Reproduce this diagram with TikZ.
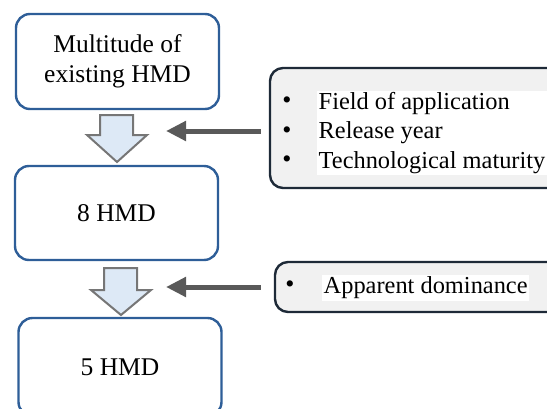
\documentclass[tikz,border=0pt]{standalone}
\usepackage{fontspec}
\setmainfont{Liberation Serif}
\usetikzlibrary{arrows.meta}
\definecolor{boxblue}{RGB}{46,94,152}
\definecolor{arrowfill}{RGB}{221,233,246}
\definecolor{arrowedge}{RGB}{118,118,118}
\definecolor{pointer}{RGB}{89,89,89}
\definecolor{notefill}{RGB}{241,241,241}
\definecolor{noteedge}{RGB}{30,42,56}
\tikzset{
  stepbox/.style={draw=boxblue, line width=2.4pt, rounded corners=14pt, fill=white,
    minimum width=203pt, align=center, font=\fontsize{25.5}{30}\selectfont},
  notebox/.style={draw=noteedge, line width=2.4pt, rounded corners=13pt, fill=notefill},
  flowarrow/.style={draw=arrowedge, line width=2pt, fill=arrowfill, line join=miter},
  pointerline/.style={draw=pointer, line width=5pt, -{Triangle[length=20pt,width=19pt]}},
  itemtext/.style={fill=white, inner sep=1.5pt, align=left, anchor=west,
    font=\fontsize{24.4}{29.5}\selectfont},
  bulletmark/.style={inner sep=0pt, font=\fontsize{26}{26}\selectfont}
}
\begin{document}
\begin{tikzpicture}[x=1pt,y=-1pt]
\useasboundingbox (0,0) rectangle (547,408);
\clip (0,0) rectangle (547,408);

% process steps
\node[stepbox, minimum height=95pt] (b1) at (117.5,61.5) {Multitude of\\existing HMD};
\node[stepbox, minimum height=94pt] (b2) at (116.5,213) {8 HMD};
\node[stepbox, minimum height=98pt] (b3) at (120,367) {5 HMD};

% hollow down arrows between the steps
\draw[flowarrow] (100,115) -- (133,115) -- (133,135) -- (147,135) -- (117,162)
  -- (87,135) -- (100,135) -- cycle;
\coordinate (a1) at (117,162);
\draw[flowarrow] (104,268) -- (137,268) -- (137,290) -- (151,290) -- (121,315)
  -- (91,290) -- (104,290) -- cycle;
\coordinate (a2) at (121,315);

% selection criteria
\node[notebox, minimum width=290pt, minimum height=120pt] (n1) at (415,128) {};
\node[bulletmark] (d1) at (287,103) {•};
\node[bulletmark] (d2) at (287,133) {•};
\node[bulletmark] (d3) at (287,162) {•};
\node[itemtext] (l1) at (317,133) {Field of application\\Release year\\Technological maturity};

\node[notebox, minimum width=285pt, minimum height=50pt] (n2) at (417.5,287) {};
\node[bulletmark] (d4) at (290,287) {•};
\node[itemtext] (l2) at (322,288) {Apparent dominance};

% criteria pointing at the filtering steps
\coordinate (t1) at (166,131);
\coordinate (t2) at (166,287);
\draw[pointerline, shorten <=8pt] (t1 -| n1.west) -- (t1);
\draw[pointerline, shorten <=13pt] (t2 -| n2.west) -- (t2);
\end{tikzpicture}
\end{document}
